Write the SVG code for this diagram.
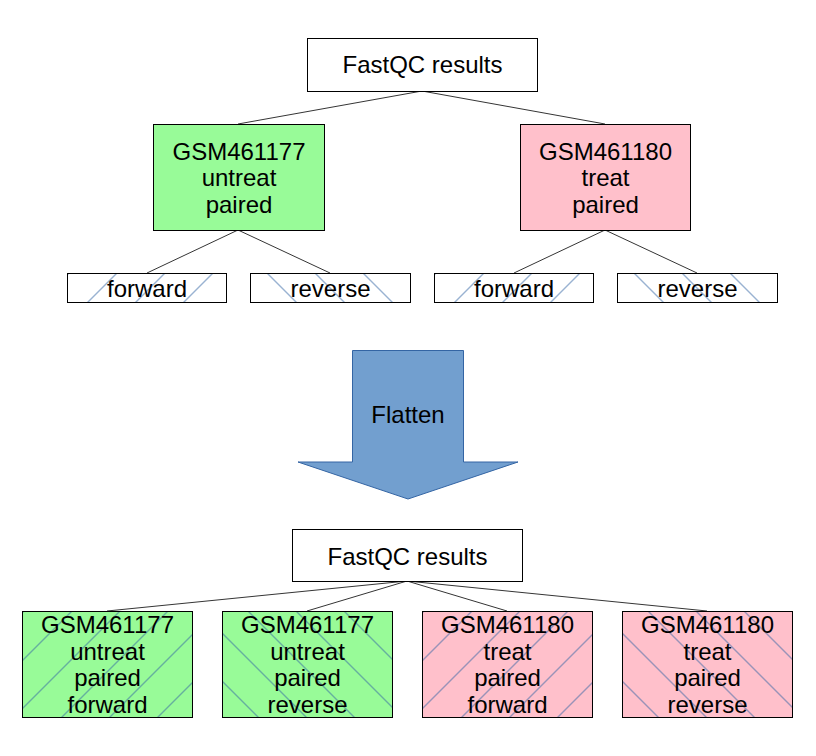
<svg xmlns="http://www.w3.org/2000/svg" width="816" height="756" viewBox="0 0 816 756">
<style>
text{font-family:"Liberation Sans",Arial,sans-serif;font-size:24px;fill:#000;text-anchor:middle}
.box{stroke:#000;stroke-width:1}
.w{fill:#fff}
.g{fill:#98fb98}
.p{fill:#ffc0cb}
.c line{stroke:#000;stroke-width:0.8}
</style>
<defs>
<pattern id="hF" patternUnits="userSpaceOnUse" x="1" y="0" width="48" height="48">
<path d="M0,48 L48,0 M-12,12 L12,-12 M36,60 L60,36" stroke="#3465a4" stroke-width="1" fill="none"/>
</pattern>
<pattern id="hR1" patternUnits="userSpaceOnUse" x="17" y="0" width="48" height="48">
<path d="M0,0 L48,48 M-12,36 L12,60 M36,-12 L60,12" stroke="#3465a4" stroke-width="1" fill="none"/>
</pattern>
<pattern id="hR2" patternUnits="userSpaceOnUse" x="26" y="0" width="48" height="48">
<path d="M0,0 L48,48 M-12,36 L12,60 M36,-12 L60,12" stroke="#3465a4" stroke-width="1" fill="none"/>
</pattern>
</defs>
<rect width="816" height="756" fill="#fff"/>
<g id="connectors" class="c">
<line x1="422" y1="91" x2="238" y2="124"/>
<line x1="422" y1="91" x2="605" y2="124"/>
<line x1="238" y1="230" x2="147" y2="273"/>
<line x1="238" y1="230" x2="330" y2="273"/>
<line x1="605" y1="230" x2="514" y2="273"/>
<line x1="605" y1="230" x2="697" y2="273"/>
<line x1="407" y1="581" x2="107" y2="611"/>
<line x1="407" y1="581" x2="307" y2="611"/>
<line x1="407" y1="581" x2="507" y2="611"/>
<line x1="407" y1="581" x2="707" y2="611"/>
</g>
<g id="fastqc-top" transform="translate(307.5,38.5)">
<rect class="box w" width="230" height="53"/>
<text x="115" y="34">FastQC results</text>
</g>
<g id="gsm177" transform="translate(153.5,124.5)">
<rect class="box g" width="171" height="106"/>
<text x="85.5" y="35">GSM461177</text>
<text x="85.5" y="61">untreat</text>
<text x="85.5" y="88">paired</text>
</g>
<g id="gsm180" transform="translate(520.5,124.5)">
<rect class="box p" width="170" height="106"/>
<text x="85" y="35">GSM461180</text>
<text x="85" y="61">treat</text>
<text x="85" y="88">paired</text>
</g>
<g id="leaf177f" transform="translate(67.5,273.5)">
<rect class="box w" width="159" height="29"/>
<rect width="159" height="29" fill="url(#hF)"/>
<rect class="box" fill="none" width="159" height="29"/>
<text x="79.5" y="23">forward</text>
</g>
<g id="leaf177r" transform="translate(250.5,273.5)">
<rect class="box w" width="160" height="29"/>
<rect width="160" height="29" fill="url(#hR1)"/>
<rect class="box" fill="none" width="160" height="29"/>
<text x="80" y="23">reverse</text>
</g>
<g id="leaf180f" transform="translate(434.5,273.5)">
<rect class="box w" width="159" height="29"/>
<rect width="159" height="29" fill="url(#hF)"/>
<rect class="box" fill="none" width="159" height="29"/>
<text x="79.5" y="23">forward</text>
</g>
<g id="leaf180r" transform="translate(617.5,273.5)">
<rect class="box w" width="160" height="29"/>
<rect width="160" height="29" fill="url(#hR1)"/>
<rect class="box" fill="none" width="160" height="29"/>
<text x="80" y="23">reverse</text>
</g>
<g id="flatten">
<path d="M352.5,350.5 H463.5 V462 H518 L408,499 L298,462 H352.5 Z" fill="#729fcf" stroke="#3465a4" stroke-width="1"/>
<text x="408" y="423">Flatten</text>
</g>
<g id="fastqc-bottom" transform="translate(292.5,529.5)">
<rect class="box w" width="230" height="52"/>
<text x="115" y="35">FastQC results</text>
</g>
<g id="flat177f" transform="translate(22.5,611.5)">
<rect class="box g" width="170" height="106"/>
<rect width="170" height="106" fill="url(#hF)"/>
<rect class="box" fill="none" width="170" height="106"/>
<text x="85" y="21">GSM461177</text>
<text x="85" y="48">untreat</text>
<text x="85" y="74">paired</text>
<text x="85" y="101">forward</text>
</g>
<g id="flat177r" transform="translate(222.5,611.5)">
<rect class="box g" width="170" height="106"/>
<rect width="170" height="106" fill="url(#hR2)"/>
<rect class="box" fill="none" width="170" height="106"/>
<text x="85" y="21">GSM461177</text>
<text x="85" y="48">untreat</text>
<text x="85" y="74">paired</text>
<text x="85" y="101">reverse</text>
</g>
<g id="flat180f" transform="translate(422.5,611.5)">
<rect class="box p" width="170" height="106"/>
<rect width="170" height="106" fill="url(#hF)"/>
<rect class="box" fill="none" width="170" height="106"/>
<text x="85" y="21">GSM461180</text>
<text x="85" y="48">treat</text>
<text x="85" y="74">paired</text>
<text x="85" y="101">forward</text>
</g>
<g id="flat180r" transform="translate(622.5,611.5)">
<rect class="box p" width="170" height="106"/>
<rect width="170" height="106" fill="url(#hR2)"/>
<rect class="box" fill="none" width="170" height="106"/>
<text x="85" y="21">GSM461180</text>
<text x="85" y="48">treat</text>
<text x="85" y="74">paired</text>
<text x="85" y="101">reverse</text>
</g>
</svg>
